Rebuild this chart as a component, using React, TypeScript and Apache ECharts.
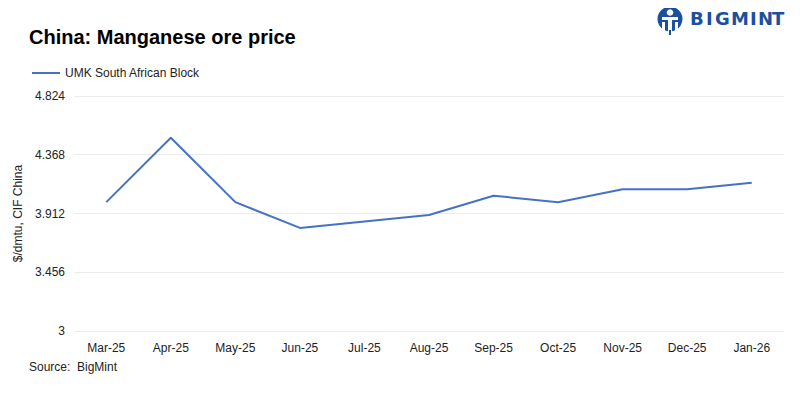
import React, { useEffect, useRef } from "react";
import * as echarts from "echarts";

const categories = ["Mar-25", "Apr-25", "May-25", "Jun-25", "Jul-25", "Aug-25", "Sep-25", "Oct-25", "Nov-25", "Dec-25", "Jan-26"];
const umkValues = [4.0, 4.5, 4.0, 3.8, 3.85, 3.9, 4.05, 4.0, 4.1, 4.1, 4.15];
const yTicks = [3, 3.456, 3.912, 4.368, 4.824];
const seriesName = "UMK South African Block";
const logoLetters = ["B", "I", "G", "M", "I", "N", "T"];

export default function App() {
  const ref = useRef<HTMLDivElement>(null);
  useEffect(() => {
    if (!ref.current) return;
    const chart = echarts.init(ref.current, null, { renderer: "svg" });
    const font = "'Liberation Sans', Arial, sans-serif";
    const blue = "#1B4FA0";
    const letterX = [690, 706, 715, 731, 750, 758, 772];
    chart.setOption({
      animation: false,
      backgroundColor: "#fff",
      title: {
        text: "China: Manganese ore price",
        left: 24,
        top: 22,
        textStyle: { fontFamily: font, fontSize: 20, fontWeight: "bold", color: "#000" },
      },
      legend: {
        left: 27,
        top: 62,
        itemWidth: 28,
        itemHeight: 14,
        icon: "path://M0,6 L28,6 L28,8 L0,8 Z",
        textStyle: { fontFamily: font, fontSize: 12, color: "#222" },
        data: [seriesName],
      },
      grid: { left: 74, right: 16, top: 96, bottom: 68 },
      xAxis: {
        type: "category",
        data: categories,
        boundaryGap: true,
        axisLine: { show: false },
        axisTick: { show: false },
        axisLabel: { fontFamily: font, fontSize: 12, color: "#222", margin: 11 },
      },
      yAxis: {
        type: "value",
        min: yTicks[0],
        max: yTicks[yTicks.length - 1],
        name: "$/dmtu, CIF China",
        nameLocation: "middle",
        nameGap: 50,
        nameTextStyle: { fontFamily: font, fontSize: 12, color: "#222" },
        axisLine: { show: false },
        axisTick: { show: false, customValues: yTicks },
        axisLabel: {
          fontFamily: font,
          fontSize: 12,
          color: "#222",
          margin: 9,
          customValues: yTicks,
          formatter: (v: number) => String(Math.round(v * 1000) / 1000),
        },
        splitLine: { show: true, lineStyle: { color: "#ececec", width: 1 } },
      },
      series: [
        {
          name: seriesName,
          type: "line",
          data: umkValues,
          symbol: "none",
          lineStyle: { color: "#4472C4", width: 2 },
          itemStyle: { color: "#4472C4" },
        },
      ],
      graphic: [
        {
          type: "text",
          left: 29,
          top: 361,
          style: { text: "Source:  BigMint", fontFamily: font, fontSize: 12, fill: "#222" },
        },
        { type: "circle", shape: { cx: 670, cy: 19, r: 12.5 }, style: { fill: blue } },
        { type: "circle", shape: { cx: 670, cy: 12.5, r: 3.3 }, style: { fill: "#fff" } },
        { type: "rect", shape: { x: 662, y: 17, width: 16, height: 3 }, style: { fill: "#fff" } },
        { type: "rect", shape: { x: 668, y: 20, width: 4, height: 12 }, style: { fill: "#fff" } },
        { type: "rect", shape: { x: 662, y: 22, width: 3, height: 8 }, style: { fill: "#fff" } },
        { type: "rect", shape: { x: 675, y: 22, width: 3, height: 8 }, style: { fill: "#fff" } },
        { type: "rect", shape: { x: 669, y: 30, width: 2, height: 5 }, style: { fill: blue } },
        ...logoLetters.map((ch, i) => ({
          type: "text",
          x: letterX[i],
          y: 9,
          style: { text: ch, fontFamily: "'DejaVu Sans', sans-serif", fontSize: 18, fontWeight: "bold", fill: blue },
        })),
      ],
    });
    return () => chart.dispose();
  }, []);
  return <div ref={ref} style={{ width: 800, height: 399, margin: -8 }} />;
}
